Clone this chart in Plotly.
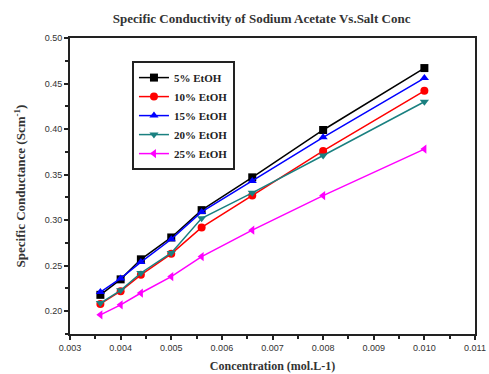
import plotly.graph_objects as go

conc = [0.0036, 0.0040, 0.0044, 0.0050, 0.0056, 0.0066, 0.0080, 0.0100]
etoh5 = [0.218, 0.235, 0.257, 0.281, 0.311, 0.347, 0.399, 0.467]
etoh10 = [0.208, 0.222, 0.240, 0.263, 0.292, 0.327, 0.376, 0.442]
etoh15 = [0.221, 0.236, 0.254, 0.279, 0.309, 0.343, 0.391, 0.456]
etoh20 = [0.209, 0.223, 0.242, 0.264, 0.302, 0.330, 0.371, 0.430]
etoh25 = [0.196, 0.207, 0.220, 0.238, 0.260, 0.289, 0.327, 0.378]

series = [
    ("5% EtOH", etoh5, "black", "square"),
    ("10% EtOH", etoh10, "red", "circle"),
    ("15% EtOH", etoh15, "blue", "triangle-up"),
    ("20% EtOH", etoh20, "#1a8080", "triangle-down"),
    ("25% EtOH", etoh25, "magenta", "triangle-left"),
]

fig = go.Figure()
for name, ys, col, sym in series:
    fig.add_trace(go.Scatter(
        x=conc, y=ys, name=name, mode="lines+markers",
        line=dict(color=col, width=1.5),
        marker=dict(symbol=sym, size=8, color=col),
    ))

serif = "Liberation Serif"
fig.update_layout(
    width=489, height=374,
    margin=dict(l=70, r=14, t=38, b=40),
    paper_bgcolor="white", plot_bgcolor="white",
    title=dict(text="Specific Conductivity of Sodium Acetate Vs.Salt Conc",
               x=0.535, xanchor="center", y=0.952, yanchor="middle",
               font=dict(family=serif, size=13, color="#333", weight="bold")),
    legend=dict(x=0.153, y=0.922, xanchor="left", yanchor="top",
                bordercolor="#222", borderwidth=2, bgcolor="white",
                font=dict(family=serif, size=11, color="#222", weight="bold"),
                tracegroupgap=0, itemwidth=30),
    xaxis=dict(range=[0.003, 0.011], dtick=0.001, tickformat=".3f",
               showgrid=False, zeroline=False, automargin=False,
               showline=True, linecolor="#222", linewidth=2, mirror=True,
               ticks="outside", ticklen=4, tickwidth=1.5, tickcolor="#222",
               minor=dict(ticks="outside", dtick=0.0005, ticklen=3, tickcolor="#222", tickwidth=1.5),
               tickfont=dict(family="Liberation Sans", size=9, color="#333"),
               title=dict(text="Concentration (mol.L-1)", standoff=10,
                          font=dict(family=serif, size=12, color="#333", weight="bold"))),
    yaxis=dict(range=[0.175, 0.50], dtick=0.05, tickformat=".2f",
               showgrid=False, zeroline=False, automargin=False,
               showline=True, linecolor="#222", linewidth=2, mirror=True,
               ticks="outside", ticklen=4, tickwidth=1.5, tickcolor="#222",
               minor=dict(ticks="outside", dtick=0.025, ticklen=3, tickcolor="#222", tickwidth=1.5),
               tickfont=dict(family="Liberation Sans", size=9, color="#333"),
               title=dict(text="Specific Conductance (Scm<sup>-1</sup>)", standoff=16,
                          font=dict(family=serif, size=13, color="#333", weight="bold"))),
)

fig.write_html("out.html")
